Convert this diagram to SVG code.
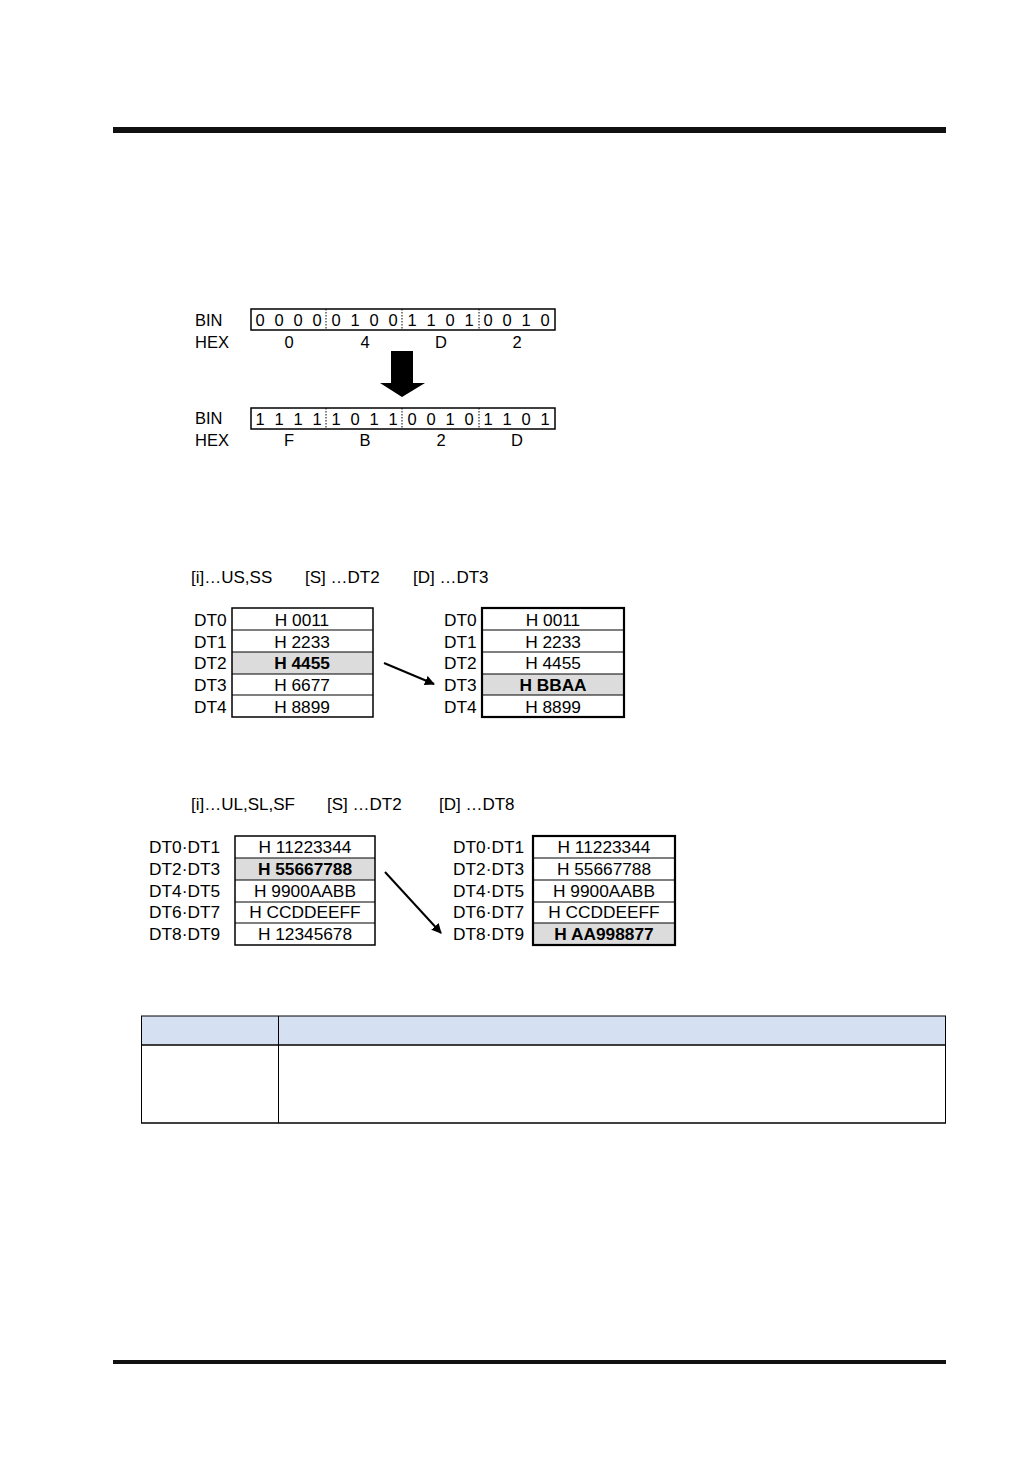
<svg xmlns="http://www.w3.org/2000/svg" width="1032" height="1457" viewBox="0 0 1032 1457">
<defs>
<style>
text{font-family:"Liberation Sans",Arial,sans-serif;font-size:17.3px;fill:#000}
.bn{font-size:16.5px}
.cap{font-size:17px}
.c{text-anchor:middle}
.b{font-weight:bold}
.box{fill:none;stroke:#000;stroke-width:1.5}
.box2{fill:none;stroke:#000;stroke-width:2.2}
.row{fill:none;stroke:#000;stroke-width:1.2}
.gray{fill:#dcdcdc}
.dot{stroke:#000;stroke-width:1;stroke-dasharray:1.5,1.5}
.conn{stroke:#000;stroke-width:2;fill:none}
</style>
<marker id="ah" markerWidth="10" markerHeight="10" refX="9" refY="5" orient="auto" markerUnits="userSpaceOnUse" viewBox="0 0 10 10">
<path d="M0,0 L10,5 L0,10 z" fill="#000"/>
</marker>
</defs>
<rect width="1032" height="1457" fill="#fff"/>
<rect x="113" y="127" width="833" height="6" fill="#111"/>
<rect x="113" y="1360" width="833" height="4" fill="#111"/>

<g id="bin1">
<text class="bn" x="195" y="326">BIN</text>
<text class="bn" x="195" y="348">HEX</text>
<rect class="box" x="251" y="309" width="304" height="21"/>
<line class="dot" x1="326" y1="309" x2="326" y2="330"/>
<line class="dot" x1="402" y1="309" x2="402" y2="330"/>
<line class="dot" x1="479" y1="309" x2="479" y2="330"/>
<text class="c bn" y="326"><tspan x="260">0</tspan><tspan x="279">0</tspan><tspan x="298">0</tspan><tspan x="317">0</tspan><tspan x="336">0</tspan><tspan x="355">1</tspan><tspan x="374">0</tspan><tspan x="393">0</tspan><tspan x="412">1</tspan><tspan x="431">1</tspan><tspan x="450">0</tspan><tspan x="469">1</tspan><tspan x="488">0</tspan><tspan x="507">0</tspan><tspan x="526">1</tspan><tspan x="545">0</tspan></text>
<text class="c bn" y="348"><tspan x="289">0</tspan><tspan x="365">4</tspan><tspan x="441">D</tspan><tspan x="517">2</tspan></text>
</g>

<g id="bigarrow">
<path d="M391,351 L413,351 L413,383 L425,383 L402,397 L380,383 L391,383 z" fill="#000"/>
</g>

<g id="bin2">
<text class="bn" x="195" y="424">BIN</text>
<text class="bn" x="195" y="446">HEX</text>
<rect class="box" x="251" y="408" width="304" height="21"/>
<line class="dot" x1="326" y1="408" x2="326" y2="429"/>
<line class="dot" x1="402" y1="408" x2="402" y2="429"/>
<line class="dot" x1="479" y1="408" x2="479" y2="429"/>
<text class="c bn" y="425"><tspan x="260">1</tspan><tspan x="279">1</tspan><tspan x="298">1</tspan><tspan x="317">1</tspan><tspan x="336">1</tspan><tspan x="355">0</tspan><tspan x="374">1</tspan><tspan x="393">1</tspan><tspan x="412">0</tspan><tspan x="431">0</tspan><tspan x="450">1</tspan><tspan x="469">0</tspan><tspan x="488">1</tspan><tspan x="507">1</tspan><tspan x="526">0</tspan><tspan x="545">1</tspan></text>
<text class="c bn" y="446"><tspan x="289">F</tspan><tspan x="365">B</tspan><tspan x="441">2</tspan><tspan x="517">D</tspan></text>
</g>

<g id="caption1">
<text class="cap" x="191" y="583">[i]…US,SS</text>
<text class="cap" x="305" y="583">[S] …DT2</text>
<text class="cap" x="413" y="583">[D] …DT3</text>
</g>

<g id="table1">
<rect class="gray" x="232" y="652" width="141" height="22"/>
<rect class="box" x="232" y="608" width="141" height="109"/>
<line class="row" x1="232" y1="630" x2="373" y2="630"/>
<line class="row" x1="232" y1="652" x2="373" y2="652"/>
<line class="row" x1="232" y1="674" x2="373" y2="674"/>
<line class="row" x1="232" y1="695" x2="373" y2="695"/>
<text x="194" y="626">DT0</text>
<text x="194" y="648">DT1</text>
<text x="194" y="669">DT2</text>
<text x="194" y="691">DT3</text>
<text x="194" y="713">DT4</text>
<text class="c" x="302" y="626">H 0011</text>
<text class="c" x="302" y="648">H 2233</text>
<text class="c b" x="302" y="669">H 4455</text>
<text class="c" x="302" y="691">H 6677</text>
<text class="c" x="302" y="713">H 8899</text>
</g>

<g id="table2">
<rect class="gray" x="482" y="674" width="142" height="21"/>
<rect class="box2" x="482" y="608" width="142" height="109"/>
<line class="row" x1="482" y1="630" x2="624" y2="630"/>
<line class="row" x1="482" y1="652" x2="624" y2="652"/>
<line class="row" x1="482" y1="674" x2="624" y2="674"/>
<line class="row" x1="482" y1="695" x2="624" y2="695"/>
<text x="444" y="626">DT0</text>
<text x="444" y="648">DT1</text>
<text x="444" y="669">DT2</text>
<text x="444" y="691">DT3</text>
<text x="444" y="713">DT4</text>
<text class="c" x="553" y="626">H 0011</text>
<text class="c" x="553" y="648">H 2233</text>
<text class="c" x="553" y="669">H 4455</text>
<text class="c b" x="553" y="691">H BBAA</text>
<text class="c" x="553" y="713">H 8899</text>
</g>

<g id="caption2">
<text class="cap" x="191" y="810">[i]…UL,SL,SF</text>
<text class="cap" x="327" y="810">[S] …DT2</text>
<text class="cap" x="439" y="810">[D] …DT8</text>
</g>

<g id="table3">
<rect class="gray" x="235" y="858" width="140" height="22"/>
<rect class="box" x="235" y="836" width="140" height="109"/>
<line class="row" x1="235" y1="858" x2="375" y2="858"/>
<line class="row" x1="235" y1="880" x2="375" y2="880"/>
<line class="row" x1="235" y1="902" x2="375" y2="902"/>
<line class="row" x1="235" y1="923" x2="375" y2="923"/>
<text x="149" y="853">DT0·DT1</text>
<text x="149" y="875">DT2·DT3</text>
<text x="149" y="897">DT4·DT5</text>
<text x="149" y="918">DT6·DT7</text>
<text x="149" y="940">DT8·DT9</text>
<text class="c" x="305" y="853">H 11223344</text>
<text class="c b" x="305" y="875">H 55667788</text>
<text class="c" x="305" y="897">H 9900AABB</text>
<text class="c" x="305" y="918">H CCDDEEFF</text>
<text class="c" x="305" y="940">H 12345678</text>
</g>

<g id="table4">
<rect class="gray" x="533" y="923" width="142" height="22"/>
<rect class="box2" x="533" y="836" width="142" height="109"/>
<line class="row" x1="533" y1="858" x2="675" y2="858"/>
<line class="row" x1="533" y1="880" x2="675" y2="880"/>
<line class="row" x1="533" y1="902" x2="675" y2="902"/>
<line class="row" x1="533" y1="923" x2="675" y2="923"/>
<text x="453" y="853">DT0·DT1</text>
<text x="453" y="875">DT2·DT3</text>
<text x="453" y="897">DT4·DT5</text>
<text x="453" y="918">DT6·DT7</text>
<text x="453" y="940">DT8·DT9</text>
<text class="c" x="604" y="853">H 11223344</text>
<text class="c" x="604" y="875">H 55667788</text>
<text class="c" x="604" y="897">H 9900AABB</text>
<text class="c" x="604" y="918">H CCDDEEFF</text>
<text class="c b" x="604" y="940">H AA998877</text>
</g>

<g id="connectors">
<line class="conn" x1="384" y1="663" x2="434" y2="684" marker-end="url(#ah)"/>
<line class="conn" x1="385" y1="872" x2="441" y2="933" marker-end="url(#ah)"/>
</g>

<g id="table5">
<rect x="141" y="1016" width="805" height="29" fill="#d6e0f3"/>
<line x1="141" y1="1016" x2="946" y2="1016" stroke="#000" stroke-width="1"/>
<line x1="141" y1="1045" x2="946" y2="1045" stroke="#000" stroke-width="1.5"/>
<line x1="141" y1="1123" x2="946" y2="1123" stroke="#000" stroke-width="1.5"/>
<line x1="141.5" y1="1016" x2="141.5" y2="1123" stroke="#000" stroke-width="1"/>
<line x1="945.5" y1="1016" x2="945.5" y2="1123" stroke="#000" stroke-width="1"/>
<line x1="278.5" y1="1016" x2="278.5" y2="1123" stroke="#000" stroke-width="1"/>
</g>
</svg>
